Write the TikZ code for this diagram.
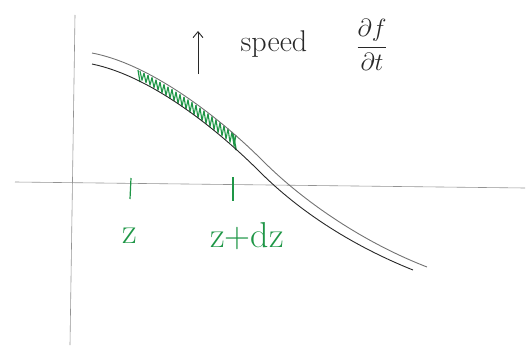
\documentclass[tikz,border=0pt]{standalone}
\usetikzlibrary{arrows.meta}
\definecolor{pen}{RGB}{40,40,40}
\definecolor{pencil}{RGB}{120,120,120}
\definecolor{greenink}{RGB}{30,150,70}
\begin{document}
\begin{tikzpicture}[x=1pt,y=-1pt,
  axis/.style={draw=pencil!80,line width=0.6pt},
  curveA/.style={draw=pen!65,line width=0.9pt},
  curveB/.style={draw=pen,line width=0.9pt},
  tickmark/.style={draw=greenink,line width=1.2pt},
  hatch/.style={draw=greenink,line width=1.1pt,line join=round},
  glabel/.style={text=greenink,font=\fontsize{36}{40}\selectfont,inner sep=0pt},
  blabel/.style={text=pen,inner sep=0pt}]
\useasboundingbox (0,0) rectangle (529,345);
% axes
\coordinate (ytop) at (75,15);
\coordinate (ybot) at (70,345);
\coordinate (xl) at (15,182);
\coordinate (xr) at (525,188);
\draw[axis] (ytop) -- (ybot);
\draw[axis] (xl) -- (xr);
% green hatching between the curves
\foreach \i in {0,...,23}{
  \pgfmathsetmacro{\ua}{4*\i}
  \pgfmathsetmacro{\ub}{4*\i+2}
  \pgfmathsetmacro{\uc}{4*\i+4}
  \pgfmathsetmacro{\ya}{70+0.525*\ua+0.00149*\ua*\ua+1}
  \pgfmathsetmacro{\yb}{80+0.605*\ub+0.00109*\ub*\ub-1}
  \pgfmathsetmacro{\yc}{70+0.525*\uc+0.00149*\uc*\uc+1}
  \draw[hatch] (140+\ua,\ya) -- (140+\ub,\yb) -- (140+\uc,\yc);
}
\coordinate (ha) at (138,70); \coordinate (hb) at (140,82);
\coordinate (hc) at (233,134); \coordinate (hd) at (236,150);
\draw[greenink,line width=1.2pt] (ha) -- (hb);
\draw[greenink,line width=1.8pt] (hc) -- (hd);
% curves
\coordinate (a0) at (92,53); \coordinate (am) at (263,161); \coordinate (a1) at (427,267);
\coordinate (b0) at (92,64); \coordinate (bm) at (260,172); \coordinate (b1) at (413,270);
\draw[curveA] (a0) .. controls (150,64) and (218,116) .. (am)
  .. controls (305,203) and (365,243) .. (a1);
\draw[curveB] (b0) .. controls (150,76) and (215,127) .. (bm)
  .. controls (300,212) and (353,246) .. (b1);
% ticks
\coordinate (t1a) at (131,178); \coordinate (t1b) at (130,199);
\coordinate (t2a) at (233,177); \coordinate (t2b) at (233,201);
\draw[tickmark] (t1a) -- (t1b);
\draw[tickmark] (t2a) -- (t2b);
\node[glabel] (z) at (130,236) {z};
\node[glabel] (zdz) at (247,236) {z+dz};
% speed arrow and labels
\coordinate (arrbot) at (198,74);
\coordinate (arrtop) at (198,31);
\draw[pen,line width=0.9pt,-{Straight Barb[length=6pt,width=10pt]}] (arrbot) -- (arrtop);
\node[blabel,font=\fontsize{30}{34}\selectfont] (speed) at (274,44) {speed};
\node[blabel,font=\fontsize{27}{31}\selectfont] (dfdt) at (372,45) {$\displaystyle\frac{\partial f}{\partial t}$};
\end{tikzpicture}
\end{document}
